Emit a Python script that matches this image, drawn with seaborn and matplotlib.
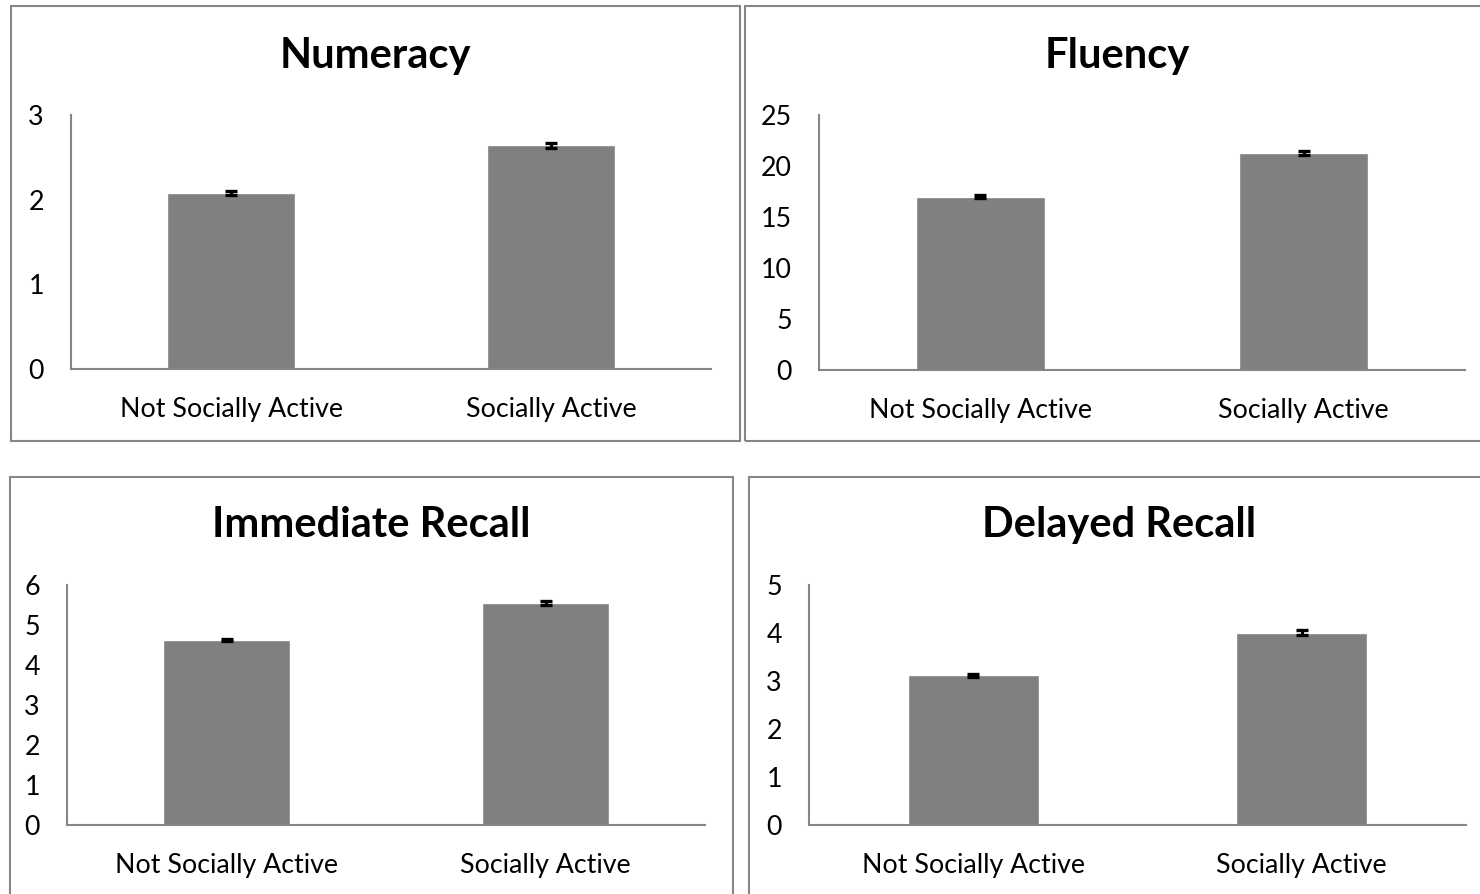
import matplotlib
matplotlib.use('Agg')
import matplotlib.pyplot as plt
from matplotlib.patches import Rectangle
import seaborn as sns

categorias = ['Not Socially Active', 'Socially Active']

titulos = ['Numeracy', 'Fluency', 'Immediate Recall', 'Delayed Recall']

numeracy = [2.08, 2.64]
numeracy_err = [0.02, 0.03]
fluency = [17.0, 21.25]
fluency_err = [0.12, 0.22]
immediate = [4.63, 5.54]
immediate_err = [0.02, 0.05]
delayed = [3.12, 4.01]
delayed_err = [0.03, 0.05]

ylims = [3, 25, 6, 5]
ysteps = [1, 5, 1, 1]

sns.set_style('white')
plt.rcParams['font.family'] = ['Lato', 'DejaVu Sans']
plt.rcParams['text.color'] = 'black'
plt.rcParams['xtick.color'] = 'black'
plt.rcParams['ytick.color'] = 'black'

W, H = 1480, 894
fig = plt.figure(figsize=(W / 100, H / 100), dpi=100)

gris = '#868686'

# cajas de cada panel (pixeles: x0, y0, x1, y1)
cajas = [(11, 6, 740, 441), (745, 6, 1490, 441), (10, 477, 733, 900), (749, 477, 1490, 900)]
# ejes (pixeles: izquierda, derecha, arriba, abajo)
ejes = [(71, 711, 115, 369), (819, 1465, 115, 370), (67, 705, 585, 825), (809, 1466, 585, 825)]
titulo_y = [56, 56, 525, 525]

valores = [numeracy, fluency, immediate, delayed]
errores = [numeracy_err, fluency_err, immediate_err, delayed_err]

for i in range(4):
    x0, y0, x1, y1 = cajas[i]
    fig.patches.append(Rectangle((x0 / W, 1 - y1 / H), (x1 - x0) / W, (y1 - y0) / H,
                                 transform=fig.transFigure, fill=False,
                                 edgecolor=gris, linewidth=1.5))

    l, r, t, b = ejes[i]
    ax = fig.add_axes([l / W, 1 - b / H, (r - l) / W, (b - t) / H])
    sns.barplot(x=categorias, y=valores[i], color='#808080', width=0.4,
                saturation=1, ax=ax)
    ax.errorbar([0, 1], valores[i], yerr=errores[i], fmt='none', ecolor='black',
                elinewidth=2.2, capsize=4.5, capthick=2.4)
    ax.set_xlim(-0.5, 1.5)
    ax.set_ylim(0, ylims[i])
    ax.set_yticks(range(0, ylims[i] + 1, ysteps[i]))
    sns.despine(ax=ax)
    for s in ['left', 'bottom']:
        ax.spines[s].set_color(gris)
        ax.spines[s].set_linewidth(1.5)
    ax.tick_params(axis='y', length=6, width=1.2, color=gris, pad=13.5,
                   labelsize=19.3, labelcolor='black')
    ax.tick_params(axis='x', length=0, pad=20, labelsize=19.3, labelcolor='black')
    ax.set_xlabel('')
    ax.set_ylabel('')

    cx = (x0 + min(x1, 1490)) / 2
    fig.text(cx / W, 1 - titulo_y[i] / H, titulos[i], ha='center', va='center',
             fontsize=30, fontweight='bold', color='black')

plt.savefig('out.png', dpi=100)
